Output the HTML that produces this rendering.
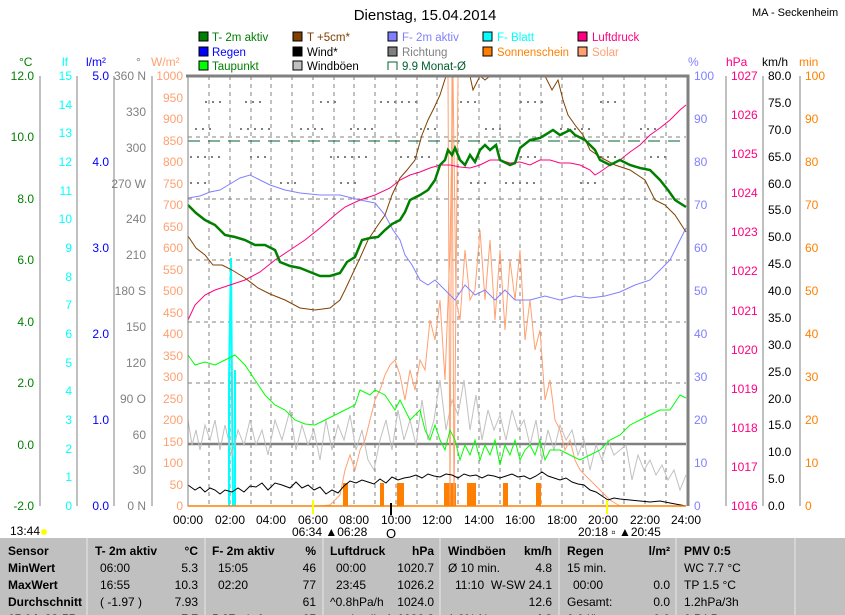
<!DOCTYPE html>
<html><head><meta charset="utf-8"><style>
body{margin:0;background:#fff;width:845px;height:615px;overflow:hidden;font-family:"Liberation Sans",sans-serif}
svg{position:absolute;left:0;top:0}
</style></head><body>
<svg width="845" height="615" viewBox="0 0 845 615" font-family="Liberation Sans, sans-serif" font-size="12">
<text x="425" y="20" font-size="15" text-anchor="middle">Dienstag, 15.04.2014</text>
<text x="752" y="16" font-size="11">MA - Seckenheim</text>
<!-- legend -->
<g font-size="11.5">
<rect x="199" y="32" width="9" height="9" fill="#008000" stroke="#000"/><text x="212" y="41" fill="#008000">T- 2m aktiv</text>
<rect x="199" y="47" width="9" height="9" fill="#0000ff" stroke="#000"/><text x="212" y="56" fill="#0000ff">Regen</text>
<rect x="199" y="61" width="9" height="9" fill="#00ff00" stroke="#000"/><text x="212" y="70" fill="#008000">Taupunkt</text>
<rect x="293" y="32" width="9" height="9" fill="#804000" stroke="#000"/><text x="307" y="41" fill="#804000">T +5cm*</text>
<rect x="293" y="47" width="9" height="9" fill="#000" stroke="#000"/><text x="307" y="56">Wind*</text>
<rect x="293" y="61" width="9" height="9" fill="#c0c0c0" stroke="#000"/><text x="307" y="70">Windböen</text>
<rect x="388" y="32" width="9" height="9" fill="#8080ff" stroke="#000"/><text x="402" y="41" fill="#8080ff">F- 2m aktiv</text>
<rect x="388" y="47" width="9" height="9" fill="#808080" stroke="#000"/><text x="402" y="56" fill="#808080">Richtung</text>
<path d="M388 70V62h9v8" fill="none" stroke="#006030"/><text x="402" y="70" fill="#006030">9.9 Monat-Ø</text>
<rect x="483" y="32" width="9" height="9" fill="#00ffff" stroke="#000"/><text x="497" y="41" fill="#00ffff">F- Blatt</text>
<rect x="483" y="47" width="9" height="9" fill="#ff8000" stroke="#000"/><text x="497" y="56" fill="#ff8000" textLength="72" lengthAdjust="spacingAndGlyphs">Sonnenschein</text>
<rect x="578" y="32" width="9" height="9" fill="#ff0080" stroke="#000"/><text x="592" y="41" fill="#ff0080">Luftdruck</text>
<rect x="578" y="47" width="9" height="9" fill="#ffa070" stroke="#000"/><text x="592" y="56" fill="#ffa070">Solar</text>
</g>
<!-- axis headers -->
<text x="19" y="66" fill="#008000">°C</text><text x="62" y="66" fill="#00ffff">lf</text><text x="86" y="66" fill="#0000ff">l/m²</text>
<text x="136" y="66" fill="#808080">°</text><text x="151" y="66" fill="#ffa070">W/m²</text>
<text x="688" y="66" fill="#8080ff">%</text><text x="726" y="66" fill="#ff0080">hPa</text><text x="762" y="66">km/h</text><text x="799" y="66" fill="#ff8000">min</text>
<!-- grid -->
<g stroke="#808080" stroke-dasharray="4,4" stroke-width="1">
<path d="M209 76V506M230 76V506M251 76V506M271 76V506M292 76V506M313 76V506M334 76V506M354 76V506M375 76V506M396 76V506M417 76V506M437 76V506M458 76V506M479 76V506M500 76V506M520 76V506M541 76V506M562 76V506M583 76V506M603 76V506M624 76V506M645 76V506M666 76V506"/>
<path d="M188 137H686M188 199H686M188 260H686M188 322H686M188 383H686"/>
</g>
<path d="M188 141H686" stroke="#006030" stroke-dasharray="12,8"/>
<path d="M188 444H686" stroke="#808080" stroke-width="2.5"/>
<!-- direction dots -->
<g stroke="#808080" stroke-width="2" stroke-dasharray="2,5">
<path d="M205 102H225M245 102H265M320 102H340M380 102H420M460 102H480M520 102H545M600 102H620"/>
<path d="M195 129H215M240 129H270M300 129H325M350 129H375M420 129H440M485 129H505M560 129H590M640 129H660"/>
<path d="M190 157H220M250 157H270M330 157H370M400 157H430M520 157H540M600 157H620M650 157H670"/>
<path d="M190 183H210M280 183H300M340 183H360M470 183H490M505 183H540M580 183H600"/>
</g>
<!-- sunshine bars -->
<g fill="#ff8000"><rect x="343" y="483" width="5" height="23"/><rect x="380" y="483" width="4" height="23"/><rect x="397" y="483" width="7" height="23"/><rect x="444" y="483" width="12" height="23"/><rect x="467" y="483" width="9" height="23"/><rect x="503" y="483" width="5" height="23"/><rect x="536" y="483" width="5" height="23"/></g>
<!-- cyan -->
<path d="M229 506V380L231 258L232 390L233 506M235 506V370" stroke="#00ffff" stroke-width="2" fill="none"/>
<!-- windböen -->
<polyline fill="none" stroke="#c0c0c0" points="188,420 192,445 196,430 200,450 205,425 210,440 215,420 220,450 225,425 232,455 238,430 244,445 250,420 256,445 262,430 268,455 275,420 282,440 290,410 296,450 302,425 308,445 314,430 320,460 326,420 332,450 338,425 344,440 350,415 356,450 362,430 368,460 374,470 380,440 386,420 392,450 398,410 404,440 410,420 416,445 422,400 428,440 434,420 440,380 446,430 452,400 458,415 464,380 470,430 476,395 482,440 488,410 494,430 500,415 506,440 512,410 518,430 524,420 530,445 536,420 542,460 548,430 554,450 560,425 566,440 572,430 578,455 584,440 590,470 596,445 602,460 608,440 614,455 620,450 626,445 632,480 638,455 644,470 650,460 656,475 662,465 668,480 674,470 680,490 686,475"/>
<!-- solar -->
<polyline fill="none" stroke="#ffa070" points="188,506 320,506 330,505 335,500 340,495 345,470 350,455 355,470 360,450 365,440 370,420 375,400 380,390 385,375 390,365 395,360 400,375 405,400 410,370 415,390 420,360 425,370 430,320 435,340 440,300 445,380 450,250 453,76 456,300 460,320 465,250 470,300 475,290 480,230 485,300 490,240 495,320 500,250 505,330 510,260 515,300 520,250 525,340 530,300 535,350 540,330 545,400 550,380 555,420 560,430 565,450 570,440 575,460 580,470 590,480 600,490 610,500 620,506 686,506"/>
<polyline fill="none" stroke="#ffa070" points="448,76 450,506 452,76 454,506 458,76"/>
<!-- wind -->
<polyline fill="none" stroke="#000" points="188,485 195,490 200,487 205,492 210,488 215,490 220,494 225,490 232,492 238,488 244,492 250,486 256,487 262,483 268,490 275,483 282,485 290,488 296,482 302,488 308,485 314,490 320,487 326,494 332,490 338,493 344,486 350,481 356,483 362,480 368,482 374,484 380,479 386,483 392,477 398,480 404,478 410,477 416,475 422,478 428,474 434,476 440,477 446,474 452,475 458,478 464,474 470,476 476,475 482,478 488,475 494,476 500,478 506,476 512,474 518,477 524,476 530,479 536,476 542,472 548,476 554,478 560,480 566,478 572,482 578,484 584,485 590,490 596,492 602,496 608,500 614,498 620,499 630,500 640,501 650,502 660,501 670,503 686,506"/>
<!-- taupunkt -->
<polyline fill="none" stroke="#00ff00" points="188,355 195,365 205,362 215,365 225,360 235,355 245,365 255,380 265,395 275,405 285,410 295,420 305,424 315,425 325,420 335,415 345,410 355,405 360,390 370,395 375,390 385,395 395,410 400,400 410,420 415,415 420,410 425,430 430,440 435,425 440,440 445,450 450,430 455,440 460,460 465,445 470,455 475,440 480,460 485,445 490,455 495,440 500,465 505,445 510,455 515,440 520,460 525,450 530,445 535,455 540,440 545,460 550,450 560,450 570,455 580,460 590,455 600,450 610,440 620,435 630,425 640,420 650,415 660,410 670,410 680,395 686,398"/>
<!-- F-2m -->
<polyline fill="none" stroke="#8080ff" points="188,198 200,196 210,192 220,190 230,184 240,178 250,175 260,180 270,185 285,190 300,193 320,195 340,195 360,200 375,203 385,215 393,230 400,240 405,255 412,265 420,280 428,285 435,280 445,290 455,300 465,285 475,295 485,290 495,300 505,290 515,300 530,300 545,296 560,300 575,296 590,298 605,296 620,292 635,285 650,280 660,270 670,260 680,240 686,228"/>
<!-- luftdruck -->
<polyline fill="none" stroke="#ff0080" points="188,320 195,305 205,295 215,290 230,285 245,280 260,272 275,260 290,250 305,240 320,228 335,215 345,207 360,200 375,195 390,188 400,180 410,175 420,172 430,168 440,165 450,165 460,167 470,168 480,165 490,160 500,160 510,163 520,162 530,165 540,160 550,160 560,163 570,163 580,165 590,170 595,175 600,172 610,165 620,160 630,152 640,145 650,135 660,128 670,120 680,110 686,105"/>
<!-- T+5cm -->
<polyline fill="none" stroke="#804000" points="188,236 196,248 205,255 213,265 222,265 232,270 245,278 258,288 270,294 285,300 300,308 315,310 330,308 340,300 345,290 352,275 360,258 368,240 378,225 385,215 392,195 400,178 407,170 415,160 422,135 428,120 434,108 440,95 446,76 470,76 473,90 480,76 485,80 490,76 545,76 552,90 558,80 563,100 568,115 575,125 583,135 590,150 600,157 615,165 630,170 645,180 655,200 665,205 675,215 686,232"/>
<!-- T-2m -->
<polyline fill="none" stroke="#008000" stroke-width="2.5" points="188,205 196,213 205,220 215,225 225,235 235,237 245,240 255,245 265,245 275,250 280,262 290,266 300,268 310,272 320,276 330,276 340,273 347,262 355,257 362,240 370,238 378,237 385,230 392,224 400,220 405,212 410,200 420,195 428,190 435,180 440,165 445,160 448,150 452,155 455,148 460,160 465,165 470,155 475,162 480,150 485,145 490,150 496,145 500,160 510,165 515,163 520,148 530,140 540,138 545,135 553,130 560,135 570,130 575,135 585,140 595,150 600,160 610,165 620,160 630,165 640,168 650,170 660,180 668,190 675,200 686,207"/>
<!-- plot frame -->
<path d="M186 76H688V506" fill="none" stroke="#808080" stroke-width="3"/>
<path d="M188 76V506H686" fill="none" stroke="#808080" stroke-width="1"/>
<path d="M188 506H686" stroke="#ff8000" stroke-width="1.5"/>
<!-- left axes -->
<g stroke="#808080" fill="none">
<path d="M40 76V506M114 76V506M152 76V506M77 76V506"/>
</g>
<g font-size="12" text-anchor="end">
<g fill="#008000"><text x="34" y="80">12.0</text><text x="34" y="141">10.0</text><text x="34" y="203">8.0</text><text x="34" y="264">6.0</text><text x="34" y="326">4.0</text><text x="34" y="387">2.0</text><text x="34" y="449">0.0</text><text x="34" y="510">-2.0</text></g>
<g fill="#00ffff"><text x="72" y="80">15</text><text x="72" y="109">14</text><text x="72" y="137">13</text><text x="72" y="166">12</text><text x="72" y="195">11</text><text x="72" y="223">10</text><text x="72" y="252">9</text><text x="72" y="281">8</text><text x="72" y="309">7</text><text x="72" y="338">6</text><text x="72" y="367">5</text><text x="72" y="395">4</text><text x="72" y="424">3</text><text x="72" y="453">2</text><text x="72" y="481">1</text><text x="72" y="510">0</text></g>
<g fill="#0000ff"><text x="109" y="80">5.0</text><text x="109" y="166">4.0</text><text x="109" y="252">3.0</text><text x="109" y="338">2.0</text><text x="109" y="424">1.0</text><text x="109" y="510">0.0</text></g>
<g fill="#808080"><text x="146" y="80">360 N</text><text x="146" y="116">330</text><text x="146" y="152">300</text><text x="146" y="188">270 W</text><text x="146" y="223">240</text><text x="146" y="259">210</text><text x="146" y="295">180 S</text><text x="146" y="331">150</text><text x="146" y="367">120</text><text x="146" y="403">90 O</text><text x="146" y="439">60</text><text x="146" y="474">30</text><text x="146" y="510">0 N</text></g>
<g fill="#ffa070"><text x="183" y="80">1000</text><text x="183" y="102">950</text><text x="183" y="123">900</text><text x="183" y="145">850</text><text x="183" y="166">800</text><text x="183" y="188">750</text><text x="183" y="209">700</text><text x="183" y="231">650</text><text x="183" y="252">600</text><text x="183" y="274">550</text><text x="183" y="295">500</text><text x="183" y="317">450</text><text x="183" y="338">400</text><text x="183" y="360">350</text><text x="183" y="381">300</text><text x="183" y="403">250</text><text x="183" y="424">200</text><text x="183" y="446">150</text><text x="183" y="467">100</text><text x="183" y="489">50</text><text x="183" y="510">0</text></g>
</g>
<!-- right axes -->
<g stroke="#808080" fill="none"><path d="M726 76V506M763 76V506M800 76V506"/></g>
<g font-size="12">
<g fill="#8080ff"><text x="694" y="80">100</text><text x="694" y="123">90</text><text x="694" y="166">80</text><text x="694" y="209">70</text><text x="694" y="252">60</text><text x="694" y="295">50</text><text x="694" y="338">40</text><text x="694" y="381">30</text><text x="694" y="424">20</text><text x="694" y="467">10</text><text x="694" y="510">0</text></g>
<g fill="#ff0080"><text x="731" y="80">1027</text><text x="731" y="119">1026</text><text x="731" y="158">1025</text><text x="731" y="197">1024</text><text x="731" y="236">1023</text><text x="731" y="275">1022</text><text x="731" y="315">1021</text><text x="731" y="354">1020</text><text x="731" y="393">1019</text><text x="731" y="432">1018</text><text x="731" y="471">1017</text><text x="731" y="510">1016</text></g>
<g><text x="768" y="80">80.0</text><text x="768" y="107">75.0</text><text x="768" y="134">70.0</text><text x="768" y="161">65.0</text><text x="768" y="188">60.0</text><text x="768" y="214">55.0</text><text x="768" y="241">50.0</text><text x="768" y="268">45.0</text><text x="768" y="295">40.0</text><text x="768" y="322">35.0</text><text x="768" y="349">30.0</text><text x="768" y="376">25.0</text><text x="768" y="403">20.0</text><text x="768" y="429">15.0</text><text x="768" y="456">10.0</text><text x="768" y="483">5.0</text><text x="768" y="510">0.0</text></g>
<g fill="#ff8000"><text x="805" y="80">100</text><text x="805" y="123">90</text><text x="805" y="166">80</text><text x="805" y="209">70</text><text x="805" y="252">60</text><text x="805" y="295">50</text><text x="805" y="338">40</text><text x="805" y="381">30</text><text x="805" y="424">20</text><text x="805" y="467">10</text><text x="805" y="510">0</text></g>
</g>
<!-- x labels -->
<g font-size="12" text-anchor="middle">
<text x="188" y="524">00:00</text><text x="230" y="524">02:00</text><text x="271" y="524">04:00</text><text x="313" y="524">06:00</text><text x="354" y="524">08:00</text><text x="396" y="524">10:00</text><text x="437" y="524">12:00</text><text x="479" y="524">14:00</text><text x="520" y="524">16:00</text><text x="562" y="524">18:00</text><text x="603" y="524">20:00</text><text x="645" y="524">22:00</text><text x="686" y="524">24:00</text>
</g>
<path d="M313 500V514M607 500V514" stroke="#ffff00" stroke-width="2"/><path d="M391 503V515" stroke="#000" stroke-width="2"/>
<text x="292" y="536" font-size="12">06:34 ▲06:28</text>
<text x="391" y="538" font-size="13" text-anchor="middle">O</text>
<text x="578" y="536" font-size="12">20:18 ▫ ▲20:45</text>
<text x="10" y="535" font-size="12">13:44</text><circle cx="44" cy="532" r="3" fill="#ffff00"/>
<!-- table -->
<rect x="0" y="538" width="845" height="77" fill="#c0c0c0"/>
<g stroke="#e8e8e8"><path d="M87 538V615M205 538V615M323 538V615M440 538V615M559 538V615M676 538V615M795 538V615"/></g>
<g font-size="12" font-weight="bold">
<text x="8" y="555">Sensor</text><text x="8" y="572">MinWert</text><text x="8" y="589">MaxWert</text><text x="8" y="606">Durchschnitt</text><text x="8" y="623">15.04. 23:55</text>
<text x="95" y="555">T- 2m aktiv</text><text x="198" y="555" text-anchor="end">°C</text>
<text x="212" y="555">F- 2m aktiv</text><text x="316" y="555" text-anchor="end">%</text>
<text x="330" y="555">Luftdruck</text><text x="434" y="555" text-anchor="end">hPa</text>
<text x="448" y="555">Windböen</text><text x="552" y="555" text-anchor="end">km/h</text>
<text x="567" y="555">Regen</text><text x="670" y="555" text-anchor="end">l/m²</text>
<text x="684" y="555">PMV 0:5</text>
<text x="198" y="623" text-anchor="end">7.7</text><text x="316" y="623" text-anchor="end">65</text><text x="434" y="623" text-anchor="end">1026.2</text><text x="552" y="623" text-anchor="end">4.8</text><text x="670" y="623" text-anchor="end">0.0</text>
</g>
<g font-size="12">
<text x="100" y="572">06:00</text><text x="198" y="572" text-anchor="end">5.3</text>
<text x="100" y="589">16:55</text><text x="198" y="589" text-anchor="end">10.3</text>
<text x="100" y="606">( -1.97 )</text><text x="198" y="606" text-anchor="end">7.93</text>
<text x="218" y="572">15:05</text><text x="316" y="572" text-anchor="end">46</text>
<text x="218" y="589">02:20</text><text x="316" y="589" text-anchor="end">77</text>
<text x="316" y="606" text-anchor="end">61</text>
<text x="336" y="572">00:00</text><text x="434" y="572" text-anchor="end">1020.7</text>
<text x="336" y="589">23:45</text><text x="434" y="589" text-anchor="end">1026.2</text>
<text x="330" y="606">^0.8hPa/h</text><text x="434" y="606" text-anchor="end">1024.0</text>
<text x="448" y="572">Ø 10 min.</text><text x="552" y="572" text-anchor="end">4.8</text>
<text x="455" y="589">11:10</text><text x="552" y="589" text-anchor="end">W-SW 24.1</text>
<text x="552" y="606" text-anchor="end">12.6</text>
<text x="567" y="572">15 min.</text>
<text x="573" y="589">00:00</text><text x="670" y="589" text-anchor="end">0.0</text>
<text x="567" y="606">Gesamt:</text><text x="670" y="606" text-anchor="end">0.0</text>
<text x="684" y="572">WC 7.7 °C</text><text x="684" y="589">TP 1.5 °C</text><text x="684" y="606">1.2hPa/3h</text>
<text x="212" y="623">5.27 g/m³</text><text x="330" y="623">wechselhaft</text><text x="448" y="623">1.9% N</text><text x="567" y="623">0.0 l/h</text><text x="684" y="623">0.5 LP</text>
</g>
</svg>
</body></html>
